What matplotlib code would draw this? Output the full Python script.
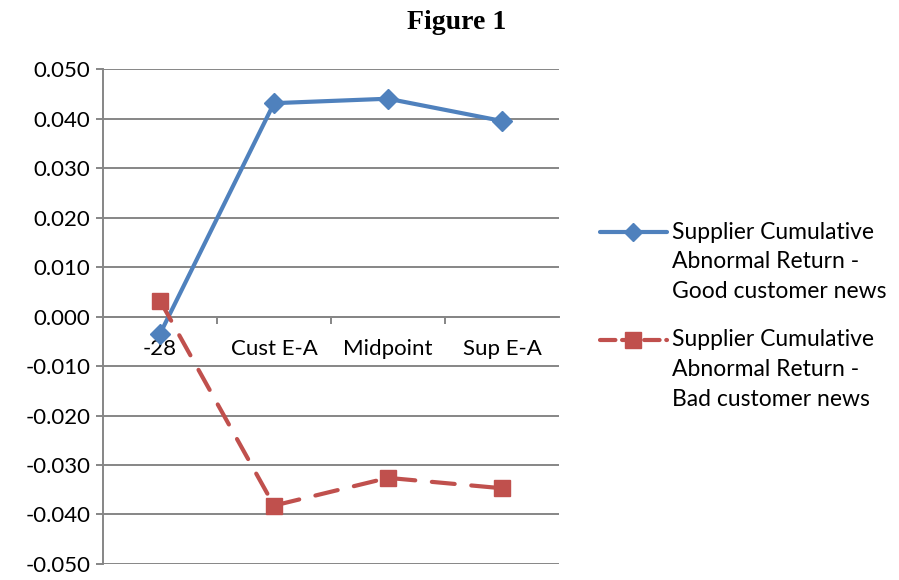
import matplotlib
matplotlib.use("Agg")
import matplotlib.pyplot as plt
from matplotlib.lines import Line2D

# chart data
categories = ["-28", "Cust E-A", "Midpoint", "Sup E-A"]
good_news = [-0.0035, 0.0431, 0.0440, 0.0395]
bad_news = [0.0032, -0.0382, -0.0326, -0.0347]
good_label = "Supplier Cumulative\nAbnormal Return -\nGood customer news"
bad_label = "Supplier Cumulative\nAbnormal Return -\nBad customer news"

blue = "#4F81BD"
red = "#C0504D"
grey = "#868686"

plt.rcParams["font.family"] = ["Lato", "DejaVu Sans"]

fig = plt.figure(figsize=(8.99, 5.80), dpi=100)
ax = fig.add_axes([0.1146, 0.0276, 0.5072, 0.8534])

x = list(range(len(categories)))

ax.plot(x, good_news, color=blue, lw=3, marker="D", ms=10,
        solid_capstyle="round", zorder=3)
ax.plot(x, bad_news, color=red, lw=3, marker="s", ms=12,
        dashes=(5.5, 4), dash_capstyle="round", zorder=4)

ax.set_xlim(-0.5, len(categories) - 0.5)
ax.set_ylim(-0.05, 0.05)
yt = [i / 100 for i in range(-5, 6)]
ax.set_yticks(yt)
ax.set_yticklabels(["%.3f" % v for v in yt], fontsize=16)
ax.yaxis.grid(True, color=grey, lw=1.4)
ax.set_axisbelow(True)

# category axis crosses at zero
ax.spines["bottom"].set_position(("data", 0))
ax.spines["bottom"].set_color(grey)
ax.spines["bottom"].set_linewidth(1.4)
ax.spines["left"].set_color(grey)
ax.spines["left"].set_linewidth(1.4)
ax.spines["top"].set_visible(False)
ax.spines["right"].set_visible(False)

ax.set_xticks([i + 0.5 for i in range(len(categories) - 1)])
ax.set_xticklabels([])
ax.tick_params(axis="x", which="major", length=5, width=1.4, color=grey, direction="out")
ax.set_xticks(x, minor=True)
ax.set_xticklabels(categories, minor=True, fontsize=16)
ax.tick_params(axis="x", which="minor", length=0, pad=16)
ax.tick_params(axis="y", length=5, width=1.4, color=grey, pad=4)

fig.text(0.508, 0.962, "Figure 1", ha="center", va="center", fontsize=20,
         fontweight="bold", family="Liberation Serif")

# legend drawn by hand, handle beside first text line as in the original
for label, color, marker, ms, ls, ytop in [
    (good_label, blue, "D", 9, "-", 0.600),
    (bad_label, red, "s", 11, "--", 0.414),
]:
    ln = Line2D([0.667, 0.742], [ytop, ytop], transform=fig.transFigure,
                color=color, lw=3, ls=ls, solid_capstyle="round",
                dash_capstyle="round")
    fig.add_artist(ln)
    mk = Line2D([0.7045], [ytop], transform=fig.transFigure, color=color,
                marker=marker, ms=ms, ls="none")
    fig.add_artist(mk)
    fig.text(0.748, ytop + 0.018, label, ha="left", va="top", fontsize=16.5,
             linespacing=1.52)

fig.savefig("out.png", dpi=100)
